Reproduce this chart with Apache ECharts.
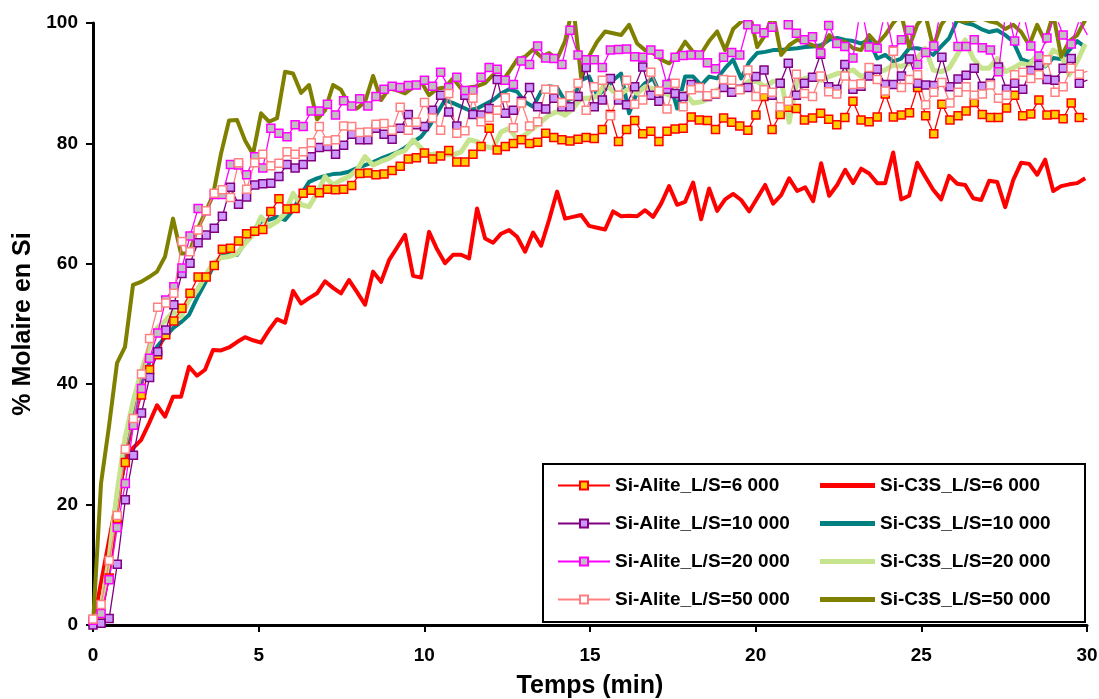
<!DOCTYPE html>
<html>
<head>
<meta charset="utf-8">
<script src="https://cdn.jsdelivr.net/npm/echarts@6/dist/echarts.min.js"></script>
<style>
  html, body { margin: 0; padding: 0; background: #ffffff; }
  #chart { width: 1099px; height: 699px; }
</style>
</head>
<body>
<div id="chart"></div>
<script>
// ---------- DATA ----------
// Sampling intervals (minutes) of the two families of measurements
const C3S_STEP_MIN = 0.2415;
const ALITE_STEP_MIN = 0.244;

const xTicks = [0, 5, 10, 15, 20, 25, 30];
const yTicks = [0, 20, 40, 60, 80, 100];

const seriesNames = [
  'Si-Alite_L/S=6 000', 'Si-Alite_L/S=10 000', 'Si-Alite_L/S=20 000', 'Si-Alite_L/S=50 000',
  'Si-C3S_L/S=6 000', 'Si-C3S_L/S=10 000', 'Si-C3S_L/S=20 000', 'Si-C3S_L/S=50 000'
];

const alite6000 = [0.5,0.8,7.8,17.7,27.0,33.2,38.2,42.4,44.9,48.2,
  50.5,52.6,55.1,57.8,57.8,59.7,62.4,62.6,63.8,65.0,
  65.4,65.7,68.7,70.8,69.1,69.2,71.7,72.2,71.8,72.4,
  72.3,72.4,73.0,75.0,75.1,74.8,74.9,75.5,76.2,77.4,
  77.6,78.4,77.4,77.9,78.8,76.9,76.9,78.2,79.5,82.5,
  78.9,79.5,80.0,80.6,80.0,80.2,81.7,81.0,80.6,80.4,
  80.7,81.0,80.8,82.3,84.8,80.3,82.3,83.8,81.6,82.0,
  80.3,82.0,82.4,82.5,84.4,83.9,83.8,82.3,84.2,83.5,
  82.9,82.2,84.7,87.8,82.3,84.8,86.0,85.8,83.9,84.2,
  85.0,84.0,83.1,84.3,87.0,83.9,83.6,84.4,88.2,84.4,
  84.7,85.1,89.3,84.6,81.6,86.5,83.9,84.6,85.4,86.8,
  84.8,84.3,84.3,85.9,88.0,84.6,84.9,87.2,84.7,84.8,
  84.1,86.7,84.3,84.0];

const alite10000 = [0,0.3,1.1,10.1,20.8,28.2,35.2,41.1,45.4,49.0,
  53.2,58.4,60.1,63.5,64.8,65.9,67.9,72.7,69.9,71.1,
  73.1,73.3,73.4,74.5,76.5,75.9,76.5,77.8,79.3,79.5,
  78.2,79.7,81.5,80.6,80.6,82.5,81.5,80.7,82.5,84.8,
  83.1,82.8,85.5,88.0,85.2,82.9,88.0,84.8,84.7,85.8,
  90.6,85.0,85.5,87.0,89.3,86.1,85.7,87.5,86.1,86.1,
  87.8,92.6,86.1,87.2,90.8,87.2,86.4,89.4,92.7,88.0,
  87.0,89.0,88.3,87.8,89.8,89.3,87.8,88.2,89.3,88.5,
  89.0,89.3,91.1,92.2,88.0,90.0,93.3,88.0,90.0,91.0,
  94.8,89.4,89.0,93.1,89.0,89.5,91.2,92.3,89.8,89.8,
  91.2,94.0,90.0,89.7,89.6,94.3,89.4,90.7,91.3,92.5,
  89.5,90.0,92.7,89.0,90.0,89.0,92.1,93.0,90.6,90.5,
  92.5,94.1,90.0,90.5];

const alite20000 = [0.8,1.9,7.5,16.2,23.5,33.2,39.3,44.3,48.5,54.0,
  56.2,59.3,64.6,69.2,68.8,71.5,71.5,76.5,76.4,74.8,
  77.8,75.9,82.5,81.7,81.1,83.1,82.8,85.4,85.4,86.5,
  84.7,87.1,86.2,87.4,86.2,87.8,89.0,89.5,89.3,89.6,
  89.7,90.5,89.5,91.8,89.3,91.0,88.8,88.8,91.0,92.6,
  92.3,90.5,89.8,93.7,93.1,96.2,94.2,94.1,93.1,98.8,
  94.7,93.9,93.9,92.6,95.5,95.6,95.7,94.4,94.3,95.5,
  94.8,89.8,94.3,94.6,94.7,94.7,93.4,92.4,94.3,95.1,
  94.7,99.7,99.0,98.4,99.3,103,99.7,98.3,97.2,97.7,
  95.0,99.6,96.6,96.1,94.2,103,96.0,95.8,102,95.5,
  97.2,98.8,93.1,95.1,96.2,103,102,96.1,96.1,97.2,
  95.9,95.5,91.9,103,97.0,102,96.2,94.5,97.5,101.5,
  98.0,96.5,100.5,98.0];

const alite50000 = [1.0,3.4,10.7,18.2,29.2,34.3,41.7,47.6,52.8,53.5,
  55.1,63.7,62.0,65.6,68.8,71.7,72.3,71.0,76.8,72.4,
  76.8,78.2,76.3,76.7,78.6,78.2,78.6,80.1,82.8,80.4,
  80.6,82.9,82.8,81.8,81.9,83.2,83.3,82.2,86.0,82.2,
  83.5,86.8,84.2,82.2,88.3,81.7,82.1,87.5,83.6,84.3,
  85.5,87.6,82.6,86.7,82.9,83.6,89.0,88.9,86.8,87.9,
  90.0,85.5,89.4,90.5,84.6,88.0,90.5,86.5,87.2,91.8,
  88.7,85.7,90.0,86.1,88.9,89.3,87.9,88.3,90.6,90.5,
  88.9,92.2,87.8,88.9,88.5,86.1,87.0,91.5,88.3,87.8,
  91.2,88.6,88.2,91.2,89.8,89.9,92.6,90.6,88.7,95.3,
  89.3,90.6,91.4,86.4,88.5,90.1,86.7,88.5,89.4,88.0,
  88.2,89.7,87.5,88.0,91.4,91.8,90.8,91.4,93.9,88.5,
  89.4,92.5,91.5,92.0];

const c3s6000 = [0,7,14,21,27,29.4,30.7,33.5,36.5,34.6,
  37.9,37.9,42.9,41.4,42.4,45.7,45.6,46.1,47.0,47.8,
  47.3,46.9,49.0,50.8,50.2,55.5,53.4,54.3,55.1,57.1,
  56.0,55.1,57.3,55.3,53.2,58.7,57.0,60.6,62.7,64.8,
  58.0,57.7,65.3,62.4,60.1,61.5,61.5,60.9,69.2,64.2,
  63.5,65.0,65.6,64.5,62.0,65.2,63.0,67.3,72.0,67.5,
  67.8,68.1,66.3,66.0,65.7,68.7,67.9,68.0,67.9,68.9,
  67.8,70.0,72.9,69.8,70.3,73.5,67.4,72.5,68.8,70.7,
  71.6,70.6,68.7,70.9,73.1,70.0,71.4,74.2,72.1,72.7,
  70.4,76.7,71.3,73.1,75.6,73.4,75.8,75.0,73.4,73.4,
  78.5,70.7,71.3,76.8,74.5,72.3,70.7,74.6,73.3,73.1,
  70.9,70.6,73.8,73.6,69.4,73.9,76.8,76.6,74.8,77.3,
  72.1,72.9,73.2,73.4,74.2];

const c3s10000 = [0,2,9,19,28,35,40,43.5,46.2,47.8,
  49.3,50.3,51.5,54.3,56.8,59.5,61.2,61.7,61.5,63.5,
  65.6,67.0,67.3,67.8,67.3,68.9,71.5,73.6,74.2,74.6,
  74.9,75.0,75.3,75.9,76.4,76.9,77.5,78.0,78.5,79.3,
  80.2,81.1,82.8,85.0,87.2,86.7,86.1,85.5,85.8,86.5,
  87.2,88.3,89.0,88.6,86.9,86.1,88.6,89.5,89.3,87.0,
  87.5,90.5,91.1,88.0,88.9,90.5,91.6,85.0,88.5,90.0,
  90.8,87.8,90.5,85.8,91.1,91.1,89.7,91.1,90.8,92.5,
  93.9,90.8,93.5,95.0,95.2,95.5,95.5,95.7,95.8,96.0,
  96.1,96.3,97.2,97.5,97.2,97.0,96.6,97.2,94.1,94.7,
  93.6,94.1,95.8,95.8,95.5,94.7,96.1,97.5,100.5,100.0,
  99.7,99.0,98.5,98.8,98.0,96.9,94.0,93.5,94.2,92.8,
  94.2,94.0,95.5,97.0,96.0];

const c3s20000 = [0,2.5,11,22,31,37,42,46,49.3,50.5,
  52.0,51.2,54.0,55.6,57.9,60.1,61.0,61.2,61.7,63.4,
  64.8,67.8,66.2,67.0,68.4,71.7,69.8,69.5,71.7,74.5,
  73.1,73.9,74.5,75.6,77.8,76.4,77.0,77.5,78.4,78.8,
  80.6,79.2,78.1,78.3,78.1,78.1,78.6,80.6,80.3,79.5,
  79.2,81.9,82.5,80.8,81.4,82.5,83.6,84.7,85.3,84.7,
  85.8,87.5,87.5,87.8,90.0,88.6,88.3,89.1,88.3,89.4,
  89.1,88.6,88.0,88.3,88.3,86.7,86.9,87.5,88.9,89.5,
  88.3,89.4,90.3,90.3,89.4,90.3,90.5,83.5,90.3,90.8,
  91.1,90.5,91.1,91.6,91.8,92.2,91.1,91.6,91.9,92.2,
  93.0,92.8,93.3,94.1,95.8,92.2,91.9,92.5,94.7,97.2,
  94.1,92.5,92.5,94.1,91.9,92.5,93.3,93.0,94.7,93.0,
  95.5,94.7,91.4,93.6,96.5];

const c3s50000 = [0,23.5,33,43.5,46.2,56.5,57.0,57.8,58.7,61.2,
  67.5,61.7,61.7,65.6,68.4,71.4,78.3,83.8,83.9,80.5,
  78.2,85.0,83.6,84.2,91.9,91.6,88.4,89.7,84.0,85.5,
  89.7,88.9,86.4,85.8,86.9,91.2,87.2,89.1,88.8,88.3,
  89.3,90.3,88.0,89.1,89.3,90.8,89.1,89.3,89.5,90.0,
  91.4,90.0,91.9,93.9,94.4,95.6,94.4,95.0,94.0,97.0,
  103,91.0,94.5,96.9,98.6,98.3,98.0,99.7,96.6,95.5,
  95.0,93.9,93.3,94.7,96.9,95.2,94.9,97.0,98.6,95.5,
  99.0,100.2,102,96.0,98.0,101.5,94.7,96.3,97.2,96.8,
  96.3,95.8,98.0,97.0,96.9,95.8,95.5,98.0,96.5,98.0,
  100.0,101.5,96.0,99.7,101.5,96.0,99.7,101.5,100.5,100.2,
  100.5,100.8,100.3,100.0,99.0,99.7,98.5,96.3,99.7,96.9,
  101.5,94.4,97.0,98.0,100.5];

// ---------- STYLES ----------
const FONT = 'Liberation Sans, Arial, sans-serif';
const aliteStyles = [
  { line: '#ff0000', fill: '#ffcc00', border: '#ff0000' },
  { line: '#800080', fill: '#cc99ff', border: '#800080' },
  { line: '#ff00ff', fill: '#c0c0c0', border: '#ff00ff' },
  { line: '#ff8080', fill: '#ffffff', border: '#ff8080' }
];
const c3sStyles = [
  { color: '#ff0000', width: 4 },
  { color: '#008080', width: 4 },
  { color: '#c6e48e', width: 5 },
  { color: '#808000', width: 4 }
];

function pairs(values, step) {
  return values.map((v, i) => [+(i * step).toFixed(4), v]);
}

const aliteData = [alite6000, alite10000, alite20000, alite50000];
const c3sData = [c3s6000, c3s10000, c3s20000, c3s50000];

const series = [];
c3sData.forEach((vals, k) => {
  series.push({
    name: seriesNames[4 + k],
    type: 'line',
    data: pairs(vals, C3S_STEP_MIN),
    symbol: 'none',
    showSymbol: false,
    clip: true,
    z: 2,
    lineStyle: { color: c3sStyles[k].color, width: c3sStyles[k].width, join: 'round' },
    itemStyle: { color: c3sStyles[k].color }
  });
});
aliteData.forEach((vals, k) => {
  const s = aliteStyles[k];
  series.push({
    name: seriesNames[k],
    type: 'line',
    data: pairs(vals, ALITE_STEP_MIN),
    symbol: 'rect',
    symbolSize: 8,
    showAllSymbol: true,
    clip: true,
    z: 3,
    lineStyle: { color: s.line, width: 1.3 },
    itemStyle: { color: s.fill, borderColor: s.border, borderWidth: 1.5 }
  });
});

const legendText = { fontFamily: FONT, fontWeight: 'bold', fontSize: 19, color: '#000' };

const chart = echarts.init(document.getElementById('chart'), null, { renderer: 'canvas' });
chart.setOption({
  animation: false,
  backgroundColor: '#ffffff',
  grid: { left: 93, right: 12, top: 23, bottom: 74, containLabel: false, outerBoundsMode: 'none' },
  graphic: [{
    type: 'rect',
    z: 3,
    shape: { x: 543, y: 464, width: 542, height: 158 },
    style: { fill: '#ffffff', stroke: '#000000', lineWidth: 2 }
  }],
  legend: [
    {
      data: seriesNames.slice(0, 4),
      orient: 'vertical',
      left: 557, top: 476,
      padding: 0,
      itemWidth: 52, itemHeight: 10,
      itemGap: 19,
      textStyle: legendText,
      z: 5
    },
    {
      data: seriesNames.slice(4).map(n => ({ name: n, icon: 'rect' })),
      orient: 'vertical',
      left: 820, top: 476,
      padding: 0,
      itemWidth: 55, itemHeight: 5,
      itemGap: 19,
      textStyle: legendText,
      z: 5
    }
  ],
  xAxis: {
    type: 'value',
    min: xTicks[0], max: xTicks[xTicks.length - 1], interval: 5,
    name: 'Temps (min)',
    nameLocation: 'middle',
    nameGap: 49,
    nameTextStyle: { fontFamily: FONT, fontWeight: 'bold', fontSize: 25, color: '#000' },
    axisLine: { lineStyle: { color: '#000', width: 3 } },
    axisTick: { show: true, inside: false, length: 7, lineStyle: { color: '#000', width: 2 } },
    axisLabel: { margin: 21, fontFamily: FONT, fontWeight: 'bold', fontSize: 19, color: '#000' },
    splitLine: { show: false }
  },
  yAxis: {
    type: 'value',
    min: yTicks[0], max: yTicks[yTicks.length - 1], interval: 20,
    name: '% Molaire en Si',
    nameLocation: 'middle',
    nameGap: 51,
    nameRotate: 90,
    nameTextStyle: { fontFamily: FONT, fontWeight: 'bold', fontSize: 25, color: '#000' },
    axisLine: { show: true, lineStyle: { color: '#000', width: 3 } },
    axisTick: { show: true, inside: false, length: 7, lineStyle: { color: '#000', width: 2 } },
    axisLabel: { margin: 15, fontFamily: FONT, fontWeight: 'bold', fontSize: 19, color: '#000' },
    splitLine: { show: false }
  },
  series: series
});
</script>
</body>
</html>
